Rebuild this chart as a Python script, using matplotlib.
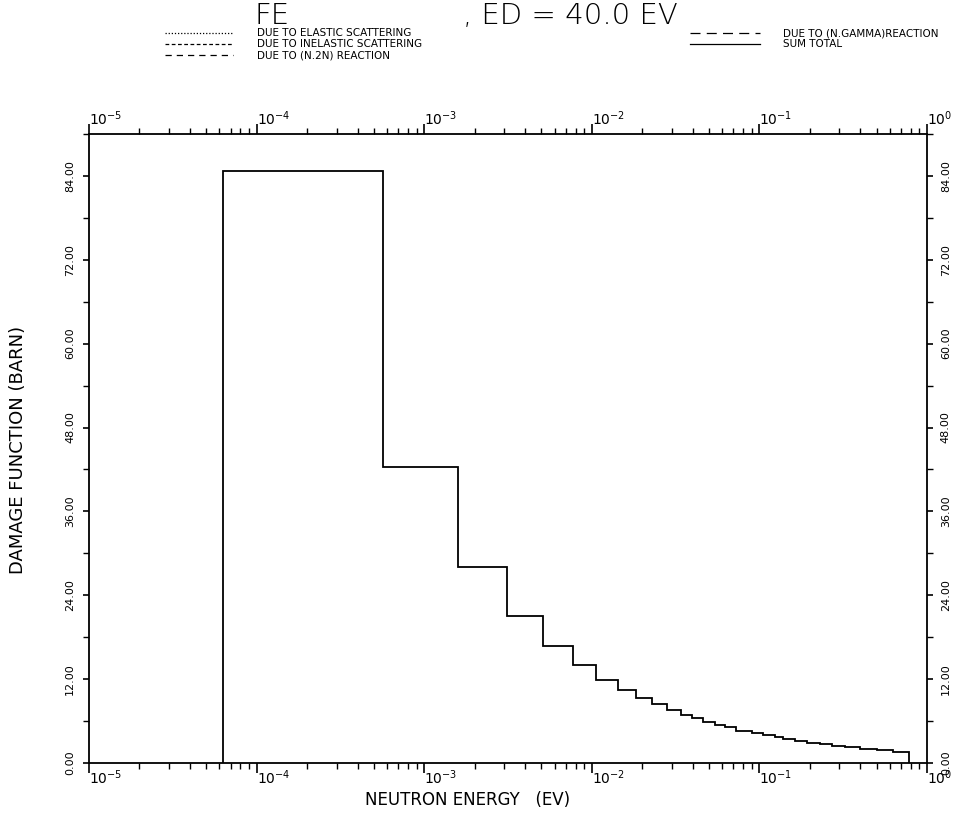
import matplotlib.pyplot as plt
from matplotlib.lines import Line2D
from matplotlib.ticker import MultipleLocator, NullFormatter, LogLocator

# group boundaries (eV) and total damage function per group (barn), Fe, Ed = 40 eV
group_edges_ev = [6.30e-5, 5.67e-4, 1.59e-3, 3.12e-3, 5.12e-3, 7.73e-3, 1.06e-2,
                  1.43e-2, 1.84e-2, 2.29e-2, 2.81e-2, 3.40e-2, 3.96e-2, 4.61e-2,
                  5.43e-2, 6.24e-2, 7.24e-2, 9.04e-2, 0.105, 0.124, 0.138, 0.163,
                  0.192, 0.230, 0.271, 0.324, 0.398, 0.504, 0.627, 0.782]
damage_total = [84.7, 42.3, 28.1, 21.1, 16.7, 14.0, 11.9, 10.5, 9.27, 8.45,
                7.59, 6.88, 6.40, 5.92, 5.44, 5.11, 4.63, 4.25, 4.01, 3.68,
                3.44, 3.19, 2.91, 2.68, 2.48, 2.25, 2.05, 1.86, 1.62]

legend_left = ["DUE TO ELASTIC SCATTERING", "DUE TO INELASTIC SCATTERING",
               "DUE TO (N.2N) REACTION"]
legend_right = ["DUE TO (N.GAMMA)REACTION", "SUM TOTAL"]

x_ticks = [1e-5, 1e-4, 1e-3, 1e-2, 1e-1, 1e0]
x_tick_labels = [r"$10^{-5}$", r"$10^{-4}$", r"$10^{-3}$", r"$10^{-2}$",
                 r"$10^{-1}$", r"$10^{0}$"]
y_ticks = [0, 12, 24, 36, 48, 60, 72, 84]
y_tick_labels = ["0.00", "12.00", "24.00", "36.00", "48.00", "60.00", "72.00", "84.00"]

W, H = 977, 815
fig = plt.figure(figsize=(W / 100, H / 100), dpi=100)
ax = fig.add_axes([89 / W, 52 / H, 838 / W, 629 / H])

ax.stairs(damage_total, group_edges_ev, baseline=0, color="black", lw=1.3)

ax.set_xscale("log")
ax.set_xlim(1e-5, 1e0)
ax.set_ylim(0, 90)

ax.set_xticks(x_ticks, x_tick_labels)
ax.xaxis.set_minor_locator(LogLocator(base=10, subs=range(2, 10)))
ax.xaxis.set_minor_formatter(NullFormatter())
ax.set_yticks(y_ticks, y_tick_labels)
ax.yaxis.set_minor_locator(MultipleLocator(6))

for sp in ax.spines.values():
    sp.set_linewidth(1.3)

ax.tick_params(axis="x", which="both", top=True, labeltop=True, direction="out",
               labelsize=10, pad=-3)
ax.tick_params(axis="x", which="major", length=7, width=1.2)
ax.tick_params(axis="x", which="minor", length=4, width=1.0)
ax.tick_params(axis="y", which="both", right=True, labelright=True, direction="out",
               labelsize=8, labelrotation=90, pad=6)
ax.tick_params(axis="y", which="major", length=4, width=1.2)
ax.tick_params(axis="y", which="minor", length=4, width=1.0)

for t in ax.xaxis.get_major_ticks():
    t.label1.set_ha("left")
    t.label2.set_ha("left")
for t in ax.yaxis.get_major_ticks():
    t.label1.set_va("center")
    t.label2.set_va("center")

fig.text(18 / W, 1 - 450 / H, "DAMAGE FUNCTION (BARN)", rotation=90,
         ha="center", va="center", fontsize=13)
fig.text(468 / W, 1 - 800 / H, "NEUTRON ENERGY   (EV)", ha="center", va="center",
         fontsize=12)

# title
fig.text(255 / W, 1 - 16 / H, "FE", ha="left", va="center", fontsize=21,
         weight="light")
fig.text(463 / W, 1 - 16 / H, ", ED = 40.0 EV", ha="left", va="center",
         fontsize=21, weight="light")

# key for the reaction components
styles_left = [(0, (1, 1.5)), (0, (3, 2)), (0, (5, 4))]
rows_y = [33, 44, 55]
for lab, ls, y in zip(legend_left, styles_left, rows_y):
    fig.add_artist(Line2D([165 / W, 233 / W], [1 - y / H, 1 - y / H],
                          color="black", lw=0.9, ls=ls))
    fig.text(257 / W, 1 - y / H, lab, ha="left", va="center", fontsize=7.5)
styles_right = [(0, (8, 5)), "-"]
for lab, ls, y in zip(legend_right, styles_right, rows_y[:2]):
    fig.add_artist(Line2D([690 / W, 760 / W], [1 - y / H, 1 - y / H],
                          color="black", lw=0.9, ls=ls))
    fig.text(783 / W, 1 - y / H, lab, ha="left", va="center", fontsize=7.5)

fig.savefig("out.png", dpi=100, facecolor="white")
